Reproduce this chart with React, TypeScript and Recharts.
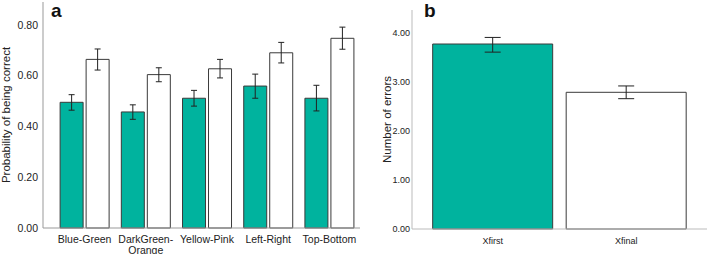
import { BarChart, Bar, XAxis, YAxis, ErrorBar, Cell } from "recharts";

const colorPairs = ["Blue-Green", "DarkGreen-Orange", "Yellow-Pink", "Left-Right", "Top-Bottom"];
const firstMean = [0.495, 0.457, 0.511, 0.559, 0.511];
const firstLow = [0.464, 0.428, 0.48, 0.511, 0.461];
const firstHigh = [0.525, 0.485, 0.542, 0.606, 0.562];
const finalMean = [0.664, 0.604, 0.627, 0.69, 0.747];
const finalLow = [0.622, 0.576, 0.591, 0.65, 0.704];
const finalHigh = [0.705, 0.631, 0.664, 0.731, 0.791];
const probTicks = [0, 0.2, 0.4, 0.6, 0.8];

const errCats = ["Xfirst", "Xfinal"];
const errMean = [3.776, 2.79];
const errLow = [3.61, 2.66];
const errHigh = [3.91, 2.92];
const errTicks = [0, 1, 2, 3, 4];

const TEAL = "#00B39E";
const EDGE = "#3a3a3a";

const dataA = colorPairs.map((name, i) => ({
  name,
  first: firstMean[i],
  firstErr: [firstMean[i] - firstLow[i], firstHigh[i] - firstMean[i]],
  final: finalMean[i],
  finalErr: [finalMean[i] - finalLow[i], finalHigh[i] - finalMean[i]],
}));

const dataB = errCats.map((name, i) => ({
  name,
  value: errMean[i],
  err: [errMean[i] - errLow[i], errHigh[i] - errMean[i]],
}));

const sans = "'Liberation Sans', Arial, sans-serif";

// long names wrap after the hyphen, like "DarkGreen-" / "Orange"
function PairTick({ x, y, payload }: any) {
  const v: string = payload.value;
  let lines = [v];
  if (v.length > 12) {
    const k = v.indexOf("-");
    lines = [v.slice(0, k + 1), v.slice(k + 1)];
  }
  return (
    <text x={x} y={y} textAnchor="middle" fill="#222" fontSize={10.5} fontFamily={sans}>
      {lines.map((l, i) => (
        <tspan key={i} x={x} dy={i === 0 ? 13 : 10.5}>
          {l}
        </tspan>
      ))}
    </text>
  );
}

export default function App() {
  return (
    <div style={{ position: "absolute", left: 0, top: 0, width: 708, height: 254, background: "#fff" }}>
      <div style={{ position: "absolute", left: 0, top: 0 }}>
        <BarChart
          width={360}
          height={254}
          data={dataA}
          margin={{ top: 2, right: 0, bottom: 0, left: 0 }}
          barCategoryGap="10%"
          barGap={3}
        >
          <XAxis
            dataKey="name"
            height={26}
            tick={<PairTick />}
            tickLine={false}
            tickSize={0}
            axisLine={{ stroke: "#999" }}
            interval={0}
            padding={{ left: 11, right: 0 }}
          />
          <YAxis
            width={43}
            domain={[0, 0.89]}
            ticks={probTicks}
            tickFormatter={(v: number) => v.toFixed(2)}
            tickLine={false}
            tickSize={0}
            tickMargin={5}
            axisLine={{ stroke: "#999" }}
            tick={{ fill: "#222", fontSize: 10.5, fontFamily: sans }}
            label={{
              value: "Probability of being correct",
              angle: -90,
              position: "insideLeft",
              offset: 6,
              style: { textAnchor: "middle", fill: "#222", fontSize: 11.5, fontFamily: sans },
            }}
          />
          <Bar dataKey="first" fill={TEAL} stroke={EDGE} strokeWidth={1} isAnimationActive={false}>
            <ErrorBar dataKey="firstErr" width={3} stroke="#222" strokeWidth={1} />
          </Bar>
          <Bar dataKey="final" fill="#fff" stroke={EDGE} strokeWidth={1} isAnimationActive={false}>
            <ErrorBar dataKey="finalErr" width={3} stroke="#222" strokeWidth={1} />
          </Bar>
        </BarChart>
        <div
          style={{
            position: "absolute",
            left: 51,
            top: 0,
            fontFamily: sans,
            fontWeight: "bold",
            fontSize: 19,
            lineHeight: "22px",
            color: "#111",
          }}
        >
          a
        </div>
      </div>
      <div style={{ position: "absolute", left: 360, top: 0 }}>
        <BarChart
          width={348}
          height={254}
          data={dataB}
          margin={{ top: 10, right: 1, bottom: 0, left: 0 }}
          barCategoryGap="5%"
        >
          <XAxis
            dataKey="name"
            height={25}
            tickLine={false}
            tickSize={0}
            tickMargin={9}
            axisLine={{ stroke: "#bbb" }}
            interval={0}
            padding={{ left: 14, right: 14 }}
            tick={{ fill: "#222", fontSize: 9, fontFamily: sans }}
          />
          <YAxis
            width={52}
            domain={[0, 4.47]}
            ticks={errTicks}
            tickFormatter={(v: number) => v.toFixed(2)}
            tickLine={false}
            tickSize={0}
            tickMargin={2}
            axisLine={{ stroke: "#bbb" }}
            tick={{ fill: "#222", fontSize: 9, fontFamily: sans }}
            label={{
              value: "Number of errors",
              angle: -90,
              position: "insideLeft",
              offset: 27,
              style: { textAnchor: "middle", fill: "#222", fontSize: 11.5, fontFamily: sans },
            }}
          />
          <Bar dataKey="value" stroke={EDGE} strokeWidth={1} isAnimationActive={false}>
            {dataB.map((d, i) => (
              <Cell key={d.name} fill={i === 0 ? TEAL : "#fff"} />
            ))}
            <ErrorBar dataKey="err" width={8} stroke="#222" strokeWidth={1} />
          </Bar>
        </BarChart>
        <div
          style={{
            position: "absolute",
            left: 64,
            top: 0,
            fontFamily: sans,
            fontWeight: "bold",
            fontSize: 19,
            lineHeight: "22px",
            color: "#111",
          }}
        >
          b
        </div>
      </div>
    </div>
  );
}
